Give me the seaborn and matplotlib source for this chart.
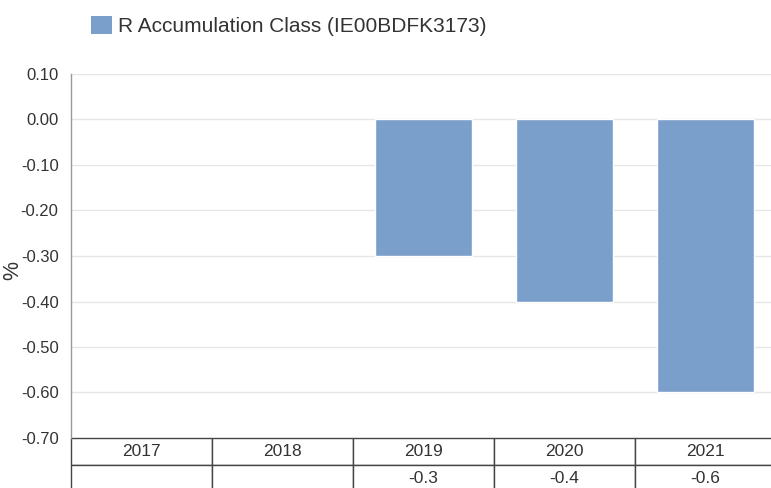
import numpy as np
import pandas as pd
import seaborn as sns
import matplotlib
matplotlib.use('Agg')
import matplotlib.pyplot as plt
from matplotlib.patches import Patch

sns.set_theme(style="white")
plt.rcParams['font.family'] = ['Liberation Sans', 'DejaVu Sans']

# data
years = ['2017', '2018', '2019', '2020', '2021']
returns = [np.nan, np.nan, -0.3, -0.4, -0.6]
return_labels = ['', '', '-0.3', '-0.4', '-0.6']
y_ticks = [-0.7, -0.6, -0.5, -0.4, -0.3, -0.2, -0.1, 0.0, 0.1]
series_name = 'R Accumulation Class (IE00BDFK3173)'
bar_color = '#7b9fcb'

df = pd.DataFrame({'year': years, 'value': returns})

fig = plt.figure(figsize=(7.71, 4.88), dpi=100)
ax = fig.add_axes([71 / 771, 50 / 488, 705 / 771, 364 / 488])

sns.barplot(data=df, x='year', y='value', order=years, color=bar_color,
            width=0.69, saturation=1, ax=ax)

ax.set_ylim(-0.70, 0.10)
ax.set_xlim(-0.5, 4.5)
ax.set_yticks(y_ticks)
ax.set_yticklabels([f'{t:.2f}' for t in y_ticks])
ax.yaxis.grid(True, color='#e6e6e6', linewidth=1)
ax.set_axisbelow(True)
ax.tick_params(axis='y', length=0, pad=9, labelsize=12, labelcolor='#333333')
ax.set_xticks([])
ax.set_xlabel('')
ax.set_ylabel('%', fontsize=15.5, color='#333333')
ax.yaxis.set_label_coords(-0.068, 0.46)

for side in ['top', 'right', 'bottom']:
    ax.spines[side].set_visible(False)
ax.spines['left'].set_color('#999999')
ax.spines['left'].set_linewidth(1)

# table under the axis
row_h = 27 / 364
tbl = ax.table(cellText=[years, return_labels], cellLoc='center',
               bbox=[0, -2 * row_h, 1, 2 * row_h])
tbl.auto_set_font_size(False)
tbl.set_fontsize(12.5)
for (r, c), cell in tbl.get_celld().items():
    cell.set_edgecolor('#444444')
    cell.set_linewidth(1)
    cell.get_text().set_color('#333333')

# legend
handles = [Patch(facecolor=bar_color, edgecolor='none', label=series_name)]
fig.legend(handles=handles, loc='center left', bbox_to_anchor=(72 / 771, 1 - 26 / 488),
           frameon=False, fontsize=15, handlelength=1.0, handleheight=1.0,
           handletextpad=0.3, labelcolor='#333333')

fig.savefig('out.png', dpi=100)
